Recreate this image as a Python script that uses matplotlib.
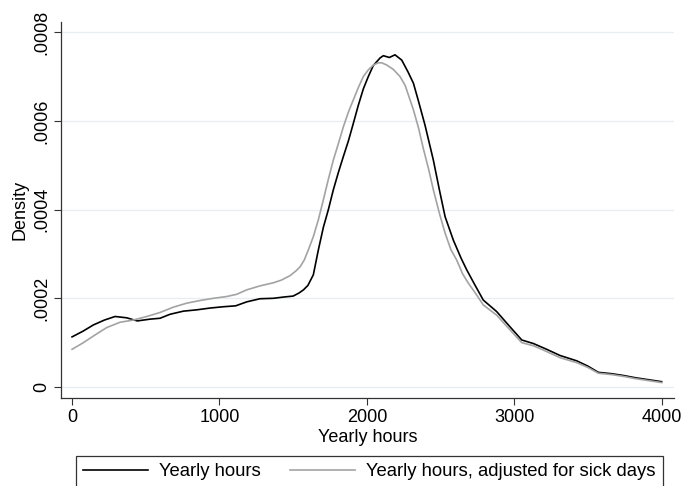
import matplotlib
matplotlib.use('Agg')
import matplotlib.pyplot as plt
import numpy as np

plt.rcParams['font.family'] = ['Liberation Sans', 'DejaVu Sans']

# Kernel density of yearly hours (density values in units of 1e-4)
hours_x = [0, 75, 145, 220, 292, 371, 443, 529, 597, 665, 755, 846, 936, 1027, 1110,
           1185, 1275, 1366, 1440, 1500, 1540, 1570, 1600, 1637, 1671, 1705, 1739,
           1773, 1808, 1841, 1875, 1908, 1942, 1976, 2010, 2044, 2090, 2112, 2153,
           2191, 2237, 2280, 2316, 2350, 2395, 2451, 2492, 2531, 2587, 2640, 2678,
           2730, 2790, 2881, 2960, 3051, 3130, 3220, 3311, 3424, 3500, 3571, 3660,
           3740, 3820, 3899, 4000]
hours_y = [1.13, 1.26, 1.40, 1.51, 1.59, 1.56, 1.49, 1.53, 1.55, 1.64, 1.71, 1.74, 1.78,
           1.81, 1.83, 1.92, 1.99, 2.00, 2.03, 2.05, 2.12, 2.19, 2.29, 2.53, 3.09, 3.60,
           4.00, 4.45, 4.85, 5.20, 5.55, 5.94, 6.35, 6.72, 7.00, 7.25, 7.42, 7.47, 7.43,
           7.49, 7.37, 7.10, 6.85, 6.45, 5.90, 5.12, 4.45, 3.84, 3.31, 2.90, 2.64, 2.32,
           1.96, 1.70, 1.40, 1.06, 0.98, 0.85, 0.71, 0.59, 0.47, 0.33, 0.30, 0.26, 0.21,
           0.17, 0.12]

# Same, adjusted for sick days
adj_x = [0, 77, 145, 235, 326, 416, 507, 597, 687, 778, 868, 959, 1049, 1117, 1185,
         1275, 1366, 1420, 1479, 1520, 1547, 1575, 1603, 1637, 1671, 1705, 1740, 1773,
         1808, 1841, 1875, 1908, 1942, 1976, 2010, 2044, 2078, 2101, 2135, 2180, 2225,
         2260, 2316, 2350, 2383, 2420, 2451, 2492, 2531, 2570, 2610, 2650, 2689, 2740,
         2790, 2881, 2960, 3051, 3130, 3220, 3311, 3424, 3500, 3571, 3660, 3740, 3820,
         3899, 4000]
adj_y = [0.85, 1.00, 1.15, 1.34, 1.46, 1.51, 1.59, 1.68, 1.80, 1.89, 1.95, 2.00, 2.04,
         2.09, 2.19, 2.28, 2.35, 2.41, 2.51, 2.62, 2.71, 2.86, 3.09, 3.39, 3.77, 4.22,
         4.70, 5.12, 5.50, 5.87, 6.20, 6.47, 6.75, 7.00, 7.15, 7.26, 7.31, 7.31, 7.26,
         7.16, 7.00, 6.80, 6.25, 5.85, 5.38, 4.90, 4.45, 3.92, 3.47, 3.10, 2.86, 2.55,
         2.34, 2.10, 1.85, 1.62, 1.33, 1.00, 0.93, 0.80, 0.66, 0.55, 0.44, 0.31, 0.28,
         0.24, 0.19, 0.15, 0.10]

x_ticks = [0, 1000, 2000, 3000, 4000]
y_ticks = [0, 0.0002, 0.0004, 0.0006, 0.0008]
y_labels = ['0', '.0002', '.0004', '.0006', '.0008']

fs = 13

fig = plt.figure(figsize=(6.84, 4.86), dpi=100)
ax = fig.add_axes([61 / 684, 88 / 486, 613 / 684, 376 / 486])

l1, = ax.plot(hours_x, np.array(hours_y) * 1e-4, color='black', lw=1.2,
              label='Yearly hours')
l2, = ax.plot(adj_x, np.array(adj_y) * 1e-4, color='#a3a3a3', lw=1.2,
              label='Yearly hours, adjusted for sick days')

ax.set_xlim(-75, 4084)
ax.set_ylim(-0.0000248, 0.000823)
ax.set_xticks(x_ticks)
ax.set_yticks(y_ticks)
ax.set_yticklabels(y_labels, rotation=90, va='center')
ax.tick_params(labelsize=fs, length=5, width=0.8, color='#333333', pad=3)
ax.grid(axis='y', color='#e6eef0', lw=0.9)
ax.set_axisbelow(True)
for s in ['top', 'right']:
    ax.spines[s].set_visible(False)
for s in ['left', 'bottom']:
    ax.spines[s].set_color('#333333')
    ax.spines[s].set_linewidth(0.9)

ax.set_xlabel('Yearly hours', fontsize=fs, labelpad=2)
ax.set_ylabel('Density', fontsize=fs, labelpad=3)

leg = fig.legend(handles=[l1, l2], loc='upper left', ncol=2,
                 bbox_to_anchor=(76 / 684, 1 - 456 / 486),
                 fontsize=13.3, frameon=True, fancybox=False,
                 handlelength=3.5, handletextpad=0.6, borderaxespad=0,
                 borderpad=0.4, columnspacing=1.6)
leg.get_frame().set_edgecolor('black')
leg.get_frame().set_linewidth(0.9)

fig.savefig('out.png', dpi=100)
